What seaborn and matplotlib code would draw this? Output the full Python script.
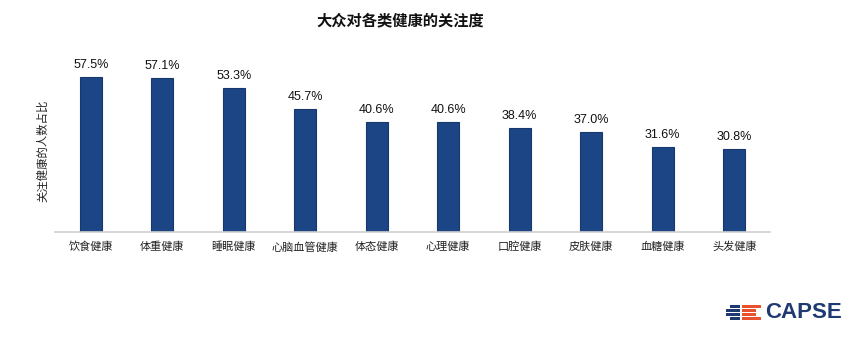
import matplotlib
matplotlib.use("Agg")
import matplotlib.pyplot as plt
import seaborn as sns
import pandas as pd
from matplotlib.patches import Rectangle

categories = ["饮食健康", "体重健康", "睡眠健康", "心脑血管健康", "体态健康",
              "心理健康", "口腔健康", "皮肤健康", "血糖健康", "头发健康"]
shares = [57.5, 57.1, 53.3, 45.7, 40.6, 40.6, 38.4, 37.0, 31.6, 30.8]

title = "大众对各类健康的关注度"
ylabel = "关注健康的人数占比"

sns.set_theme(style="white")
plt.rcParams["font.family"] = ["Noto Sans CJK SC", "DejaVu Sans"]

df = pd.DataFrame({"category": categories, "share": shares})

W, H = 861, 342
fig = plt.figure(figsize=(W / 100, H / 100), dpi=100)
ax = fig.add_axes([55 / W, (H - 232) / H, (770 - 55) / W, (232 - 43) / H])

bar_color = "#1b4584"
sns.barplot(data=df, x="category", y="share", color=bar_color, width=0.31,
            edgecolor="#16386c", linewidth=0.8, saturation=1, ax=ax)

ax.set_ylim(0, 70)
ax.set_xlim(-0.5, len(categories) - 0.5)
ax.set_yticks([])
ax.set_xlabel("")
ax.set_ylabel(ylabel, fontsize=8.2, color="#222222")
ax.yaxis.set_label_coords(-0.009, 0.43)
for side in ["top", "right", "left"]:
    ax.spines[side].set_visible(False)
ax.spines["bottom"].set_color("#d0d0d0")
ax.spines["bottom"].set_linewidth(1.2)
ax.tick_params(axis="x", length=0, pad=7, labelsize=8, colors="#222222")

for i, v in enumerate(shares):
    ax.text(i, v + 2.2, f"{v:.1f}%", ha="center", va="bottom", fontsize=9,
            color="#111111", family=["Liberation Sans", "DejaVu Sans"])

fig.text(400 / W, 1 - 20 / H, title, ha="center", va="center",
         fontsize=11, fontweight="bold", color="#111111")

# CAPSE logo mark: blue/red stripes and wordmark
navy = "#1f3a70"
red = "#e8502f"
rows = [306.5, 310.5, 314.5, 318.5]
for k, yy in enumerate(rows):
    y0 = 1 - (yy + 1.1) / H
    hh = 2.2 / H
    blue_start = 726 if k in (1, 2) else 730
    fig.patches.append(Rectangle((blue_start / W, y0), (740 - blue_start) / W, hh,
                                 transform=fig.transFigure, facecolor=navy,
                                 linewidth=0))
    red_end = 761 if k in (0, 3) else 756
    fig.patches.append(Rectangle((742 / W, y0), (red_end - 742) / W, hh,
                                 transform=fig.transFigure, facecolor=red,
                                 linewidth=0))
fig.text(765 / W, 1 - 313 / H, "CAPSE", ha="left", va="center", fontsize=16,
         fontweight="bold", color=navy, family=["Liberation Sans", "DejaVu Sans"])

fig.savefig("out.png", dpi=100, facecolor="white")
